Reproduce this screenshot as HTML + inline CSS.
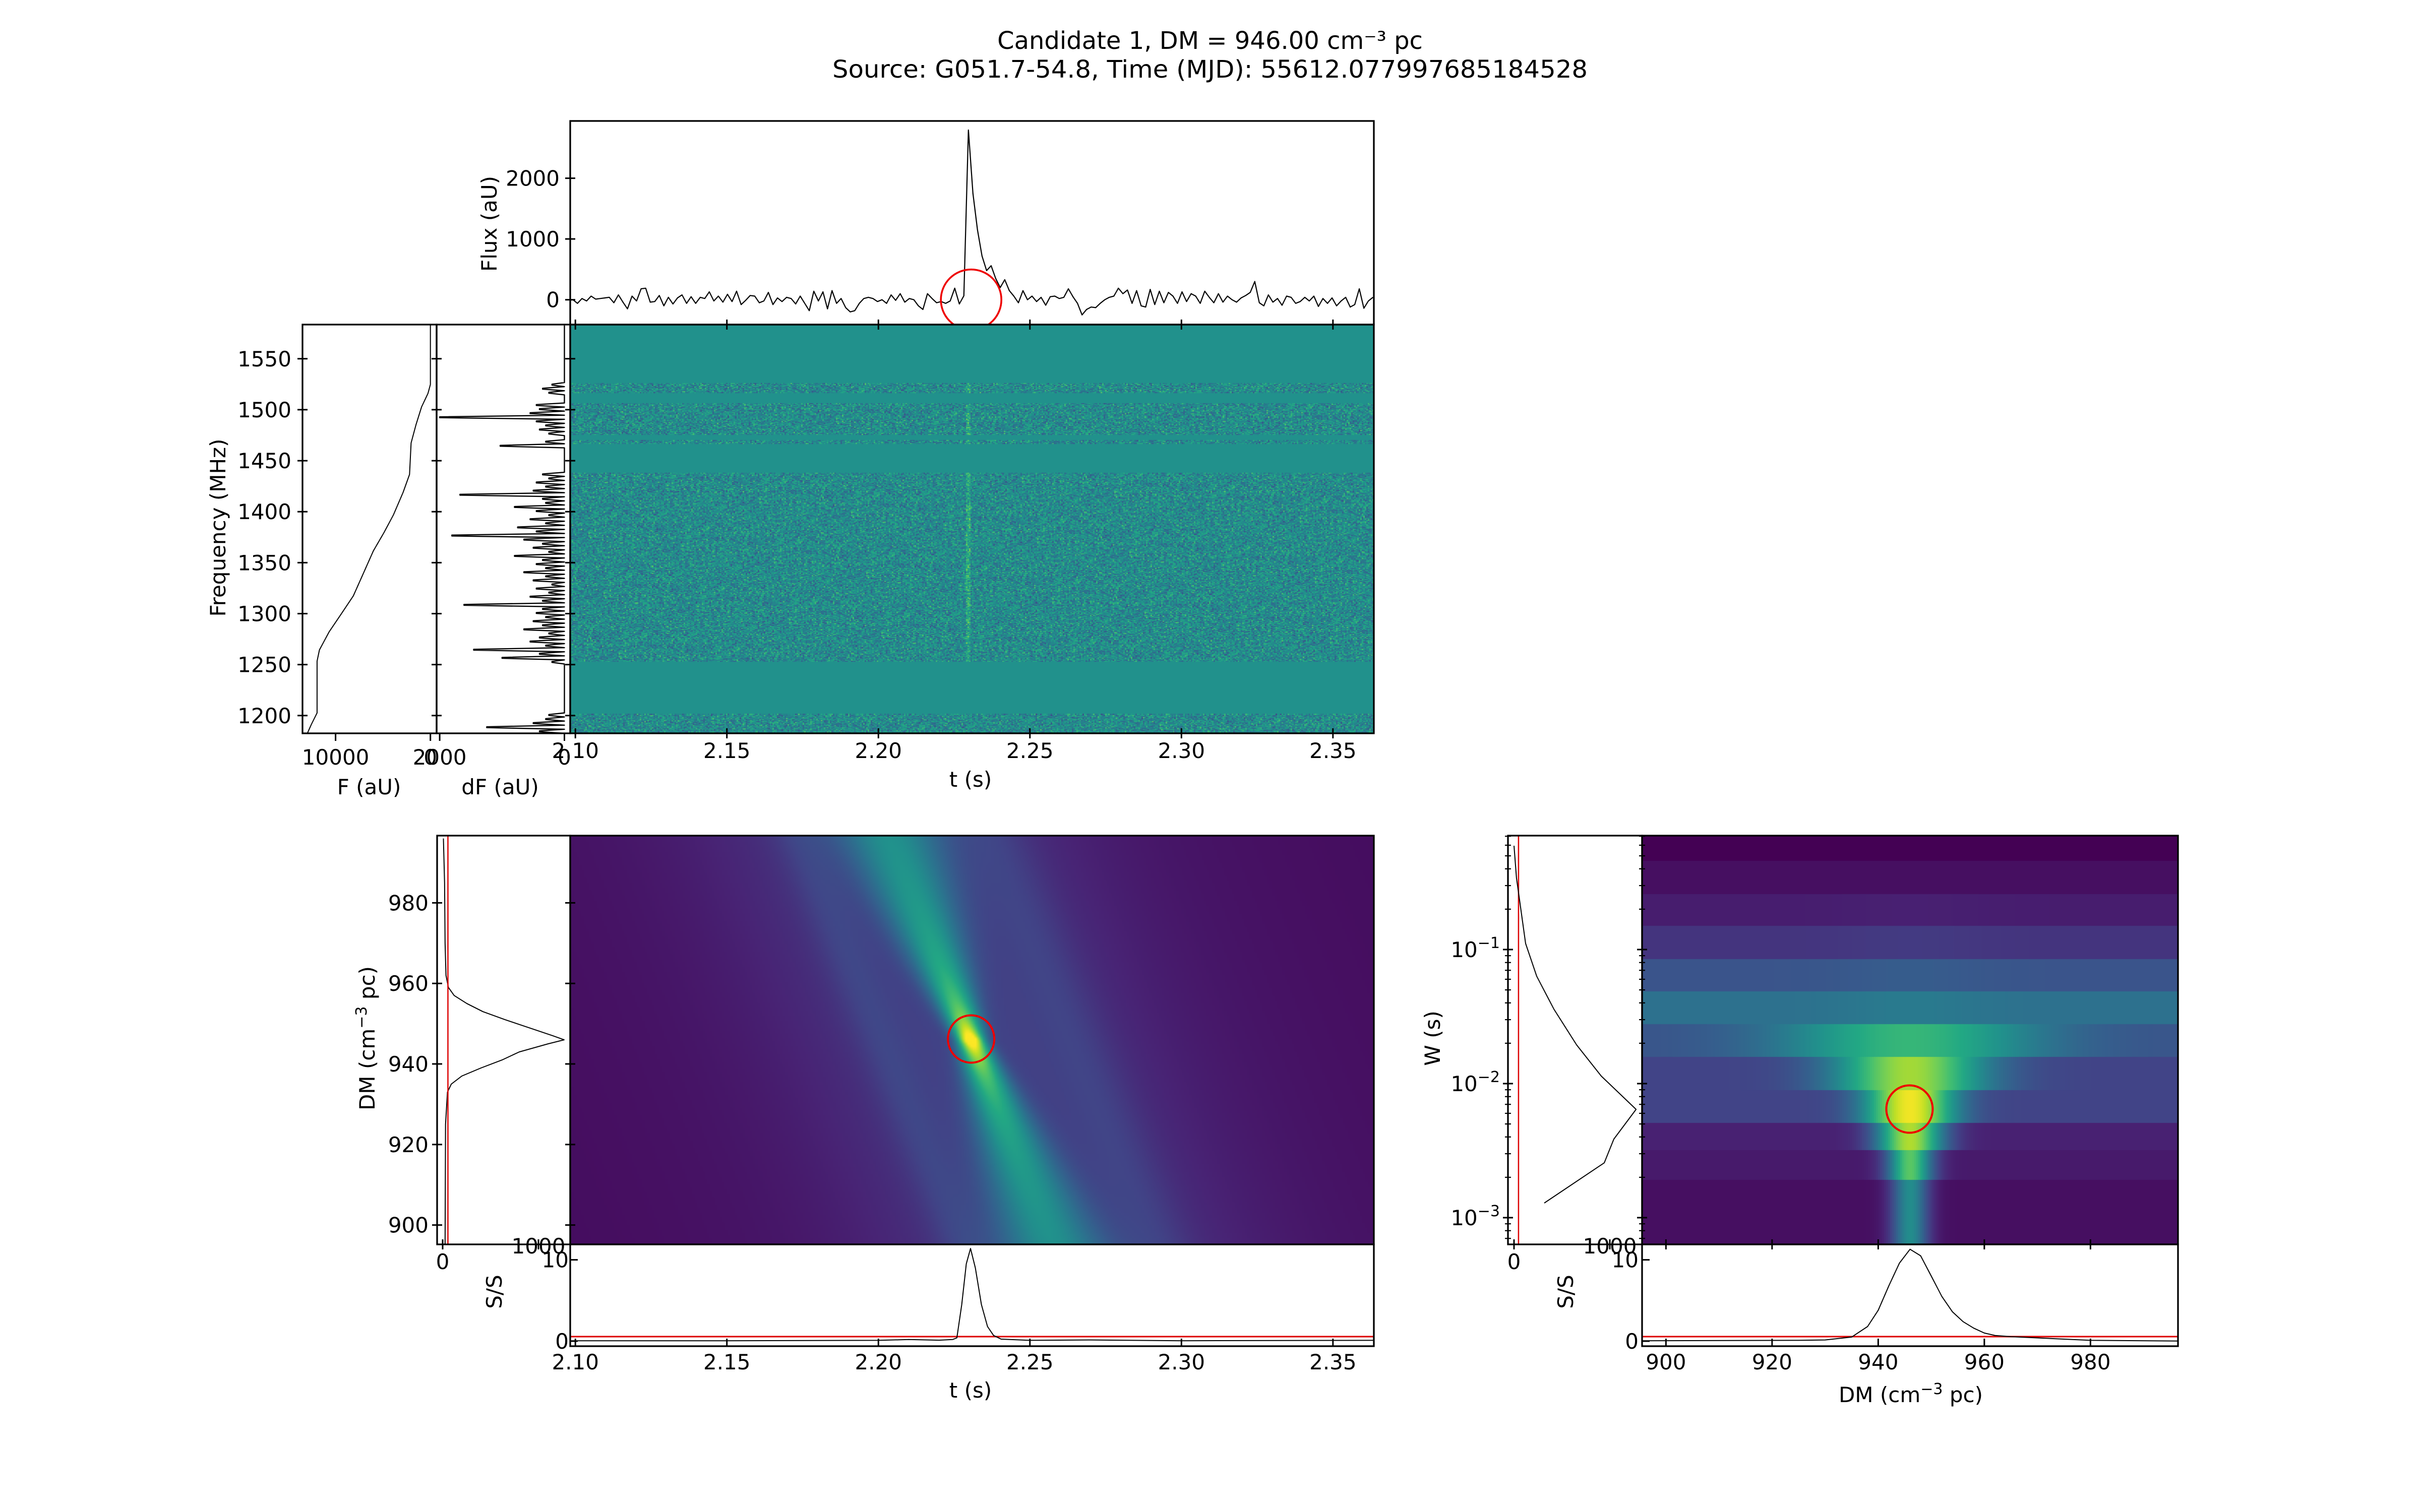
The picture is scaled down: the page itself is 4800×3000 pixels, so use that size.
<!DOCTYPE html>
<html><head><meta charset="utf-8">
<style>
html,body{margin:0;padding:0;background:#fff}
body{width:4800px;height:3000px;position:relative;overflow:hidden;font-family:"DejaVu Sans","Liberation Sans",sans-serif}
canvas{position:absolute;display:block}
#fig{position:absolute;left:0;top:0}
text{font-family:"DejaVu Sans","Liberation Sans",sans-serif;fill:#000}
</style></head>
<body>
<canvas id="spec" width="1594" height="811" style="left:1131px;top:644px;width:1594px;height:811px"></canvas>
<canvas id="dmt" width="1594" height="811" style="left:1131px;top:1658px;width:1594px;height:811px"></canvas>
<canvas id="dmw" width="1063" height="811" style="left:3257px;top:1658px;width:1063px;height:811px"></canvas>
<svg id="fig" width="4800" height="3000" viewBox="0 0 4800 3000">
<defs>
<clipPath id="cFlux"><rect x="1131" y="240" width="1594" height="404"/></clipPath>
<clipPath id="cF"><rect x="600" y="644" width="266" height="811"/></clipPath>
<clipPath id="cdF"><rect x="866" y="644" width="265" height="811"/></clipPath>
<clipPath id="cDMc"><rect x="867" y="1658" width="264" height="811"/></clipPath>
<clipPath id="cSt"><rect x="1131" y="2469" width="1594" height="202"/></clipPath>
<clipPath id="cW"><rect x="2991" y="1658" width="266" height="811"/></clipPath>
<clipPath id="cSd"><rect x="3257" y="2469" width="1063" height="202"/></clipPath>
</defs>
<text x="2400" y="97" text-anchor="middle" font-size="48">Candidate 1, DM = 946.00 cm⁻³ pc</text>
<text x="2400" y="154" text-anchor="middle" font-size="48" textLength="1498" lengthAdjust="spacingAndGlyphs">Source: G051.7-54.8, Time (MJD): 55612.077997685184528</text>
<text x="985" y="444" text-anchor="middle" font-size="42" transform="rotate(-90 985 444)">Flux (aU)</text>
<text x="447" y="1047" text-anchor="middle" font-size="42" transform="rotate(-90 447 1047)">Frequency (MHz)</text>
<text x="732" y="1576" text-anchor="middle" font-size="42">F (aU)</text>
<text x="992" y="1576" text-anchor="middle" font-size="42">dF (aU)</text>
<text x="1925" y="1561" text-anchor="middle" font-size="42">t (s)</text>
<text x="743" y="2060" text-anchor="middle" font-size="42" transform="rotate(-90 743 2060)">DM (cm<tspan dy="-16" font-size="30">−3</tspan><tspan dy="16"> pc)</tspan></text>
<text x="2856" y="2060" text-anchor="middle" font-size="42" transform="rotate(-90 2856 2060)">W (s)</text>
<text x="1925" y="2773" text-anchor="middle" font-size="42">t (s)</text>
<text x="3790" y="2782" text-anchor="middle" font-size="42">DM (cm<tspan dy="-16" font-size="30">−3</tspan><tspan dy="16"> pc)</tspan></text>
<text x="995" y="2563" text-anchor="middle" font-size="42" transform="rotate(-90 995 2563)">S/S</text>
<text x="3120" y="2563" text-anchor="middle" font-size="42" transform="rotate(-90 3120 2563)">S/S</text>
</svg>
<script>
// ---------- data ----------
const fluxT0 = 2.0992;
const fluxDt = 0.0015;
const fluxValues = [0,-60,20,-20,60,10,20,30,40,-50,
80,-40,-150,60,-20,180,190,-40,-30,70,
-100,40,-70,30,80,-60,50,-60,40,20,
130,-20,60,-40,90,-30,140,-80,-10,70,
60,-50,-20,120,-80,30,-30,40,20,-70,
60,-60,-180,140,-20,130,-150,150,-60,20,
-130,-200,-180,-60,20,40,20,-30,0,-60,
80,-10,100,-40,20,0,-100,-160,100,20,
-50,-30,-60,-20,190,-70,65,2794,1750,1150,
720,480,560,350,200,330,150,60,-50,150,
0,60,-30,40,-90,50,60,20,40,180,
50,-60,-250,-160,-120,-130,-60,0,40,60,
190,100,160,-60,150,-100,-120,170,-80,140,
-50,120,60,-60,130,-30,100,60,-60,140,
40,-50,100,-40,60,0,-40,30,70,120,
300,-50,-100,80,-40,20,-90,60,40,-60,
-30,40,-20,60,-110,20,-60,30,-100,-20,
40,-120,-80,180,-140,-20,40];
const fluxTicks = [0,1000,2000];
const timeTicks = [2.10,2.15,2.20,2.25,2.30,2.35];
const timeTickLabels = ["2.10","2.15","2.20","2.25","2.30","2.35"];
const freqTicks = [1200,1250,1300,1350,1400,1450,1500,1550];
const chanF0 = 1184.6;
const chanDf = 4;
const dFValues = [400,1246,500,300,250,
0,0,0,0,0,0,0,0,0,0,0,0,
200,1000,400,1455,300,550,400,250,650,350,500,300,450,350,1610,350,550,250,450,200,500,300,650,300,450,350,800,250,500,350,650,1805,450,750,300,550,250,450,800,300,350,1675,500,300,450,250,350,
0,0,0,0,0,0,
1030,300,0,250,400,300,450,2000,550,400,450,0,0,250,350,200,
0,0,0,0,0,0,0,0,0,0,0,0,0,0];
const cumFreq = [1583.5,1524.8,1516,1502.8,1485.1,1467.4,1436.5,1418.9,1396.8,1379.2,1361.5,1343.9,1317.4,1299.7,1282.1,1264.4,1253.4,1202.6,1191.6,1182.7];
const cumF = [0,0,255,930,1525,2036,2200,2880,3900,4910,6020,6860,8130,9400,10680,11700,11950,11950,12540,12970];
const burstTime = 2.2297;
const burstDM = 946.0;
const driftPerDM = 0.00053;
const dmTicks = [900,920,940,960,980];
const dmCurveDM = [895,925,933,935,937,939,941,943,945,946,947,949,951,953,955,957,959,962,970,985,996];
const dmCurveSNR = [25,30,50,90,200,400,620,800,1100,1268,1150,900,650,420,253,120,60,35,25,20,8];
const snrTime = [2.0983,2.15,2.20,2.21,2.22,2.2245,2.2259,2.2275,2.229,2.2304,2.232,2.234,2.236,2.238,2.2405,2.25,2.27,2.30,2.3635];
const snrTimeVals = [0.05,0.05,0.1,0.2,0.12,0.2,0.4,4.5,9.5,11.4,9,4.5,1.8,0.7,0.25,0.1,0.15,0.05,0.1];
const snrThreshold = 0.56;
const snrTicks = [0,10];
const wCurveLogW = [-0.226,-0.466,-0.955,-1.199,-1.444,-1.711,-1.944,-2.192,-2.414,-2.591,-2.891];
const wCurveSNR = [0,26,121,237,416,653,911,1274,1042,942,316];
const wRowEdges = [-0.150,-0.338,-0.586,-0.823,-1.071,-1.312,-1.556,-1.801,-2.049,-2.293,-2.496,-2.718,-3.199];
const wRowBase = [0.0,0.04,0.08,0.15,0.26,0.37,0.26,0.20,0.20,0.09,0.07,0.04];
const wRowPeak = [0.0,0.04,0.09,0.17,0.29,0.41,0.66,0.86,0.98,0.88,0.74,0.48];
const wRowWidth = [10,10,10,10,10,10,17,10,6,4.5,3,2.5];
const wBestLogW = -2.19;
const snrDM = [895.5,925,930,935,938,940,942,944,946,948,950,952,954,956,958,960,962,965,970,975,980,996.5];
const snrDMVals = [0.05,0.1,0.15,0.5,1.8,3.8,6.8,9.6,11.3,10.5,8,5.5,3.6,2.4,1.6,1.0,0.7,0.55,0.4,0.25,0.1,0.02];
const dmXTicks = [900,920,940,960,980];
const maskBands = [[1202,1253],[1438,1466],[1470,1475],[1506,1516],[1526,1590]];

// ---------- scales ----------
const tX = t => 1131 + (t-2.0983)/(2.3635-2.0983)*1594;
const fluxY = v => 644 - (v+409)/(2943+409)*404;
const fY = f => 1455 - (f-1182.6)/(1583.5-1182.6)*811;
const FX = v => 853.7 - v*0.01881;
const dFX = v => 1119.5 - v*0.1237;
const dmY = d => 2469 - (d-895.2)/(996.7-895.2)*811;
const dmcX = v => 878 + v*0.19;
const snrY = v => 2671 - (v+0.62)/(11.9+0.62)*202;
const wY = lw => 1884 + (-1-lw)*266;
const wcX = v => 3003 + v*0.19;
const dmX = d => 3257 + (d-895.5)/(996.5-895.5)*1063;

const NS = 'http://www.w3.org/2000/svg';
const svg = document.getElementById('fig');
function mk(tag){const e=document.createElementNS(NS,tag);svg.appendChild(e);return e;}
function path(d,stroke,sw,clip){const e=mk('path');e.setAttribute('d',d);e.setAttribute('fill','none');e.setAttribute('stroke',stroke);e.setAttribute('stroke-width',sw);e.setAttribute('stroke-linejoin','round');if(clip)e.setAttribute('clip-path','url(#'+clip+')');return e;}
function ln(x1,y1,x2,y2,sw){const e=mk('line');e.setAttribute('x1',x1);e.setAttribute('y1',y1);e.setAttribute('x2',x2);e.setAttribute('y2',y2);e.setAttribute('stroke','#000');e.setAttribute('stroke-width',sw||3);return e;}
function tx(x,y,s,anchor,size){const e=mk('text');e.setAttribute('x',x);e.setAttribute('y',y);e.setAttribute('text-anchor',anchor||'middle');e.setAttribute('font-size',size||42);e.textContent=s;return e;}
function frame(x,y,w,h){const e=mk('rect');e.setAttribute('x',x);e.setAttribute('y',y);e.setAttribute('width',w);e.setAttribute('height',h);e.setAttribute('fill','none');e.setAttribute('stroke','#000');e.setAttribute('stroke-width',3.3);return e;}
function polyD(xs,ys){let d='';for(let i=0;i<xs.length;i++){d+=(i?'L':'M')+xs[i].toFixed(1)+' '+ys[i].toFixed(1);}return d;}

const VS=[[68,1,84],[72,36,117],[65,68,135],[53,95,141],[42,120,142],[33,145,140],[34,168,132],[68,191,112],[122,209,81],[189,223,38],[253,231,37]];
function viridis(v){v=Math.max(0,Math.min(1,v));const p=v*10;const i=Math.min(9,Math.floor(p));const f=p-i;const a=VS[i],b=VS[i+1];return [a[0]+(b[0]-a[0])*f,a[1]+(b[1]-a[1])*f,a[2]+(b[2]-a[2])*f];}
function masked(f){for(const b of maskBands){if(f>=b[0]&&f<b[1])return true;}return false;}

// ---------- dynamic spectrum (texture) ----------
(function(){
  const cv=document.getElementById('spec');const ctx=cv.getContext('2d');
  const W=532,H=400;const img=ctx.createImageData(W,H);
  let s=12345;function rnd(){s=(s*1103515245+12345)&0x7fffffff;return s/0x7fffffff;}
  for(let r=0;r<H;r++){
    const f=1583.5-(r+0.5)/H*(1583.5-1182.6);
    const m=masked(f);
    for(let c=0;c<W;c++){
      const t=2.0983+(c+0.5)/W*(2.3635-2.0983);
      let v=0.5;
      if(!m){v=0.48+((rnd()+rnd()+rnd())-1.5)*0.19; if(Math.abs(t-burstTime)<0.0006 && f>1240) v+=0.12;}
      const col=viridis(v);const k=(r*W+c)*4;
      img.data[k]=col[0];img.data[k+1]=col[1];img.data[k+2]=col[2];img.data[k+3]=255;
    }
  }
  const tmp=document.createElement('canvas');tmp.width=W;tmp.height=H;tmp.getContext('2d').putImageData(img,0,0);
  ctx.imageSmoothingEnabled=false;ctx.drawImage(tmp,0,0,1594,811);
})();

// ---------- DM-time image ----------
(function(){
  const cv=document.getElementById('dmt');const ctx=cv.getContext('2d');
  const W=320,H=160;const img=ctx.createImageData(W,H);
  for(let r=0;r<H;r++){const dm=996.7-(r+0.5)/H*(996.7-895.2);const dd=Math.abs(dm-burstDM);
    const tc=burstTime+0.0008+(burstDM-dm)*driftPerDM;
    const A=0.22+0.76/(1+dd/6);const sg=0.003+0.00018*dd;
    for(let c=0;c<W;c++){const t=2.0983+(c+0.5)/W*(2.3635-2.0983);
      const u=t-tc;
      const u2=t-(tc-0.03), u3=t-(tc+0.035);
      let v=0.03+A*Math.exp(-u*u/(2*sg*sg))+0.11*Math.exp(-u*u/(2*0.035*0.035))+0.06*Math.exp(-u*u/(2*0.07*0.07))
        +0.05*Math.exp(-u2*u2/(2*0.006*0.006))+0.05*Math.exp(-u3*u3/(2*0.008*0.008));
      const col=viridis(Math.min(1,v));const k=(r*W+c)*4;
      img.data[k]=col[0];img.data[k+1]=col[1];img.data[k+2]=col[2];img.data[k+3]=255;}}
  const tmp=document.createElement('canvas');tmp.width=W;tmp.height=H;tmp.getContext('2d').putImageData(img,0,0);
  ctx.imageSmoothingEnabled=true;ctx.drawImage(tmp,0,0,1594,811);
})();

// ---------- DM-width image ----------
(function(){
  const cv=document.getElementById('dmw');const ctx=cv.getContext('2d');
  for(let r=0;r<wRowBase.length;r++){
    const y0=wY(wRowEdges[r])-1658,y1=wY(wRowEdges[r+1])-1658;
    for(let x=0;x<1063;x+=4){const dm=895.5+(x+2)/1063*101;
      const g=Math.exp(-Math.pow(dm-burstDM,2)/(2*wRowWidth[r]*wRowWidth[r]));
      const v=wRowBase[r]+(wRowPeak[r]-wRowBase[r])*g;const col=viridis(v);
      ctx.fillStyle='rgb('+col.map(Math.round).join(',')+')';ctx.fillRect(x,Math.round(y0),4,Math.ceil(y1-y0)+1);}
  }
})();

// ---------- flux panel ----------
{
  const xs=fluxValues.map((v,i)=>tX(fluxT0+i*fluxDt));const ys=fluxValues.map(v=>fluxY(v));
  const p=path(polyD(xs,ys),'#000',2.2,'cFlux');
  
  
  const c=mk('circle');c.setAttribute('cx',tX(2.2306));c.setAttribute('cy',fluxY(0));c.setAttribute('r',60);c.setAttribute('fill','none');c.setAttribute('stroke','#e00');c.setAttribute('stroke-width',3.6);c.setAttribute('clip-path','url(#cFlux)');
  
  
  const fr=frame(1131,240,1594,404);
  
  
  for(const v of fluxTicks){const y=fluxY(v);
    const tk=ln(1121,y,1141,y);
    
    
    const lb=tx(1110,y+15,String(v),'end');
    
    }
  for(const t of timeTicks){const x=tX(t);
    const tk=ln(x,634,x,654);
    
    }
}

// ---------- spectrum panel axes ----------
{
  const fr=frame(1131,644,1594,811);
  
  
  timeTicks.forEach((t,i)=>{const x=tX(t);
    const tk=ln(x,1445,x,1465);
    
    
    const lb=tx(x,1504,timeTickLabels[i]);
    
    });
  for(const f of freqTicks){const y=fY(f);
    const tk=ln(590,y,610,y);
    
    
    const lb=tx(578,y+15,String(f),'end');
    
    
    const t2=ln(856,y,876,y);
    
    
    const t3=ln(1121,y,1141,y);
    
    }
}

// ---------- F (cumulative) panel ----------
{
  const p=path(polyD(cumF.map(FX),cumFreq.map(fY)),'#000',2,'cF');
  
  
  const fr=frame(600,644,266,811);
  
  
  const fTicks=[10000,0];
  for(const v of fTicks){const x=FX(v);
    const tk=ln(x,1455,x,1470);
    
    
    const lb=tx(x,1517,String(v));
    
    }
}

// ---------- dF panel (spikes) ----------
{
  let d='';const x0=dFX(0);
  for(let i=0;i<dFValues.length;i++){const lo=chanF0+i*chanDf-chanDf/2,hi=lo+chanDf,mid=lo+chanDf/2;const x=dFX(dFValues[i]);
    d+=(i?'L':'M')+x0.toFixed(1)+' '+fY(lo).toFixed(1)+'L'+x.toFixed(1)+' '+fY(mid-0.4).toFixed(1)+'L'+x.toFixed(1)+' '+fY(mid+0.4).toFixed(1)+'L'+x0.toFixed(1)+' '+fY(hi).toFixed(1);}
  const p=path(d,'#000',2.4,'cdF');
  
  
  const fr=frame(866,644,265,811);
  
  
  const dTicks=[2000,0];
  for(const v of dTicks){const x=dFX(v);
    const tk=ln(x,1455,x,1470);
    
    
    const lb=tx(x,1517,String(v));
    
    }
}

// ---------- DM-time panel ----------
{
  const c=mk('ellipse');c.setAttribute('cx',tX(2.2306));c.setAttribute('cy',dmY(946.2));c.setAttribute('rx',46);c.setAttribute('ry',47);c.setAttribute('fill','none');c.setAttribute('stroke','#e00');c.setAttribute('stroke-width',4);
  
  
  const fr=frame(1131,1658,1594,811);
  
  
  for(const d of dmTicks){const y=dmY(d);
    const tk=ln(857,y,877,y);
    
    
    const lb=tx(850,y+15,String(d),'end');
    
    
    const t2=ln(1121,y,1141,y);
    
    }
  const p=path(polyD(dmCurveSNR.map(dmcX),dmCurveDM.map(dmY)),'#000',2,'cDMc');
  
  
  const rl=ln(dmcX(55),1658,dmcX(55),2469,2.5);rl.setAttribute('stroke','#d00');
  
  
  const fr2=frame(867,1658,264,811);
  
  
  const cTicks=[0,1000];const cTickY=[2518,2487];
  cTicks.forEach((v,i)=>{const x=dmcX(v);
    const tk=ln(x,2459,x,2479);
    
    
    const lb=tx(x,cTickY[i],String(v));
    
    });
}

// ---------- SNR vs time ----------
{
  const rl=ln(1131,snrY(snrThreshold),2725,snrY(snrThreshold),3);rl.setAttribute('stroke','#d00');
  
  
  const p=path(polyD(snrTime.map(tX),snrTimeVals.map(snrY)),'#000',2,'cSt');
  
  
  const fr=frame(1131,2469,1594,202);
  
  
  timeTicks.forEach((t,i)=>{const x=tX(t);
    const tk=ln(x,2656,x,2671);
    
    
    const lb=tx(x,2717,timeTickLabels[i]);
    
    });
  for(const v of snrTicks){const y=snrY(v);
    const tk=ln(1131,y,1146,y);
    
    
    const lb=tx(1128,y+15,String(v),'end');
    
    }
}

// ---------- W panel ----------
{
  const rl=ln(wcX(47),1658,wcX(47),2469,2.5);rl.setAttribute('stroke','#d00');
  
  
  const p=path(polyD(wCurveSNR.map(wcX),wCurveLogW.map(wY)),'#000',2,'cW');
  
  
  const fr=frame(2991,1658,266,811);
  
  
  const decades=[-1,-2,-3];
  for(const dcd of decades){const y=wY(dcd);
    const tk=ln(2981,y,3001,y);
    
    
    const t2=ln(3247,y,3267,y);
    
    
    const lb=mk('text');lb.setAttribute('x',2975);lb.setAttribute('y',y+15);lb.setAttribute('text-anchor','end');lb.setAttribute('font-size',42);
    lb.innerHTML='10<tspan dy="-18" font-size="30">−'+(-dcd)+'</tspan>';
    
    }
  for(let dcd=-4;dcd<=0;dcd++){for(let m=2;m<=9;m++){const lw=dcd+Math.log10(m);if(lw>-0.15||lw<-3.199)continue;const y=wY(lw);
    const tk=ln(2985,y,2997,y,2.2);
    
    
    const t2=ln(3251,y,3263,y,2.2);
    
    }}
  const cTicks=[0,1000];const cTickY=[2518,2487];
  cTicks.forEach((v,i)=>{const x=wcX(v);
    const tk=ln(x,2459,x,2479);
    
    
    const lb=tx(x,cTickY[i],String(v));
    
    });
}

// ---------- DM-W frame + marker ----------
{
  const c=mk('ellipse');c.setAttribute('cx',dmX(945.9));c.setAttribute('cy',wY(wBestLogW));c.setAttribute('rx',46);c.setAttribute('ry',47);c.setAttribute('fill','none');c.setAttribute('stroke','#e00');c.setAttribute('stroke-width',4);
  
  
  const fr=frame(3257,1658,1063,811);
  
  
  for(const d of dmXTicks){const x=dmX(d);
    const tk=ln(x,2459,x,2479);
    
    }
}

// ---------- SNR vs DM ----------
{
  const rl=ln(3257,snrY(snrThreshold),4320,snrY(snrThreshold),3);rl.setAttribute('stroke','#d00');
  
  
  const p=path(polyD(snrDM.map(dmX),snrDMVals.map(snrY)),'#000',2,'cSd');
  
  
  const fr=frame(3257,2469,1063,202);
  
  
  for(const d of dmXTicks){const x=dmX(d);
    const tk=ln(x,2656,x,2671);
    
    
    const lb=tx(x,2717,String(d));
    
    }
  for(const v of snrTicks){const y=snrY(v);
    const tk=ln(3257,y,3272,y);
    
    
    const lb=tx(3250,y+15,String(v),'end');
    
    }
}
</script>
</body></html>
